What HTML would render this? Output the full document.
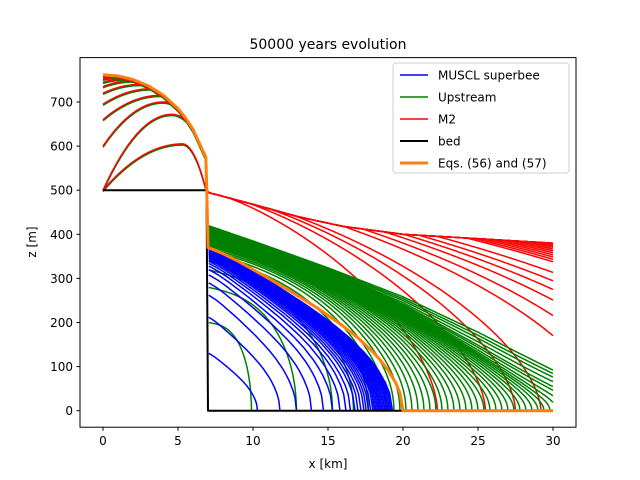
<!DOCTYPE html>
<html><head><meta charset="utf-8"><style>
body{margin:0;background:#fff}
svg{display:block;font-family:"DejaVu Sans","Liberation Sans",sans-serif}
</style></head><body>
<svg id="chart" width="640" height="480" viewBox="0 0 640 480" xmlns="http://www.w3.org/2000/svg">
<rect width="640" height="480" fill="#fff"/>
<text x="328" y="49" font-size="14" text-anchor="middle">50000 years evolution</text>
<g id="plot"></g>
<rect x="80" y="57.6" width="496" height="369.6" fill="none" stroke="#000" stroke-width="1"/>
<g id="axes"></g>
<text x="328" y="468" font-size="12" text-anchor="middle">x [km]</text>
<text x="36" y="242" font-size="12" text-anchor="middle" transform="rotate(-90 36 242)">z [m]</text>
<g>
<rect x="393" y="63" width="176" height="110" rx="3" fill="#fff" fill-opacity="0.85" stroke="#ccc"/>
<g><line x1="400" y1="75" x2="428" y2="75" stroke="#0000ff" stroke-width="1.5"/><text x="438" y="79.5" font-size="12">MUSCL superbee</text></g>
<g><line x1="400" y1="97" x2="428" y2="97" stroke="#008000" stroke-width="1.5"/><text x="438" y="101.5" font-size="12">Upstream</text></g>
<g><line x1="400" y1="119" x2="428" y2="119" stroke="#ff0000" stroke-width="1.5"/><text x="438" y="123.5" font-size="12">M2</text></g>
<g><line x1="400" y1="141" x2="428" y2="141" stroke="#000" stroke-width="2"/><text x="438" y="145.5" font-size="12">bed</text></g>
<g><line x1="400" y1="163" x2="428" y2="163" stroke="#ff7f0e" stroke-width="3"/><text x="438" y="167.5" font-size="12">Eqs. (56) and (57)</text></g>
</g>
</svg>
<script>
const xTicks=[0,5,10,15,20,25,30];
const yTicks=[0,100,200,300,400,500,600,700];
const orangeRightX=[7,8,9,10,11,12,13,14,15,16,17,18,18.5,19,19.5,19.8,20];
const orangeRightZ=[370,356,339,320,301,281,260,239,216,192,165,133,114,92,64,40,0];
const orangeLeftX=[0,1,2,3,4,5,5.5,6,6.5,6.85];
const orangeLeftZ=[762,759,751,737,716,685,664,638,601,575];
const blueL=[10.3,11.8,12.9,13.9,14.7,15.3,15.8,16.2,16.5,16.8,17.0,17.2,17.4,17.55,17.7,17.85,18.0,18.1,18.2,18.3,18.4,18.5,18.6,18.7,18.8,18.9,19.0,19.1,19.2,19.3];
const blueH=[130,212,262,290,308,320,328,334,339,343,346,349,351,353,355,356,357,358,359,360,361,362,363,364,365,366,366,367,367,368];
const greenL=[9.9,12.9,15.3,16.7,17.7,18.4,18.9,19.4,19.8,20.2,20.6,21.0,21.4,21.8,22.2,22.6,23.0,23.4,23.8,24.2,24.6,25.0,25.4,25.8,26.2,26.6,27.0,27.4,27.8,28.2,28.6,29.0,29.4,29.8,30.3,31,32,33,35,38,42,50];
const greenH=[200,280,320,340,352,360,366,370,374,377,380,382,384,386,388,390,392,393,394,395,396,397,398,399,400,401,402,403,404,405,406,407,408,409,410,411,412,413,414,416,418,420];
const greenTopX=[7,10,15,20,25,30];
const greenTopZ=[420,385,325,262,185,100];
const redTopX=[7,10,13,16,20,25,30];
const redTopZ=[495,468,440,418,400,390,380];
const redL=[22.3,25.5,27.5,29.2,33.5,35.7,38,40,42,44.3,48,49,50,51,52,53,54,55,56,57,58,60];
const leftZ0=[500,500,600,660,695,720,735,745,752,758];
const leftXp=[5.3,4.6,4.0,3.8,3.2,2.5,2.0,1.5,1.0,0.5];
const leftZp=[605,672,700,715,730,740,748,752,756,760];
const leftZe=[500,585,588,590,592,594,596,598,600,602];

const X=v=>103+v*15, Y=v=>410.7-v*0.441;
const NS='http://www.w3.org/2000/svg';
const plot=document.getElementById('plot'), axes=document.getElementById('axes');
function interp(xs,zs,x){if(x<=xs[0])return zs[0];for(let i=1;i<xs.length;i++){if(x<=xs[i]){const t=(x-xs[i-1])/(xs[i]-xs[i-1]);return zs[i-1]+t*(zs[i]-zs[i-1]);}}return zs[zs.length-1];}
const shapeU=orangeRightX.map(x=>(x-7)/13), shapeF=orangeRightZ.map(z=>z/370);
const fRed=u=>u>=1?0:Math.pow(1-Math.pow(u,1.3),0.6);
const fBlue=u=>u>=1?0:interp(shapeU,shapeF,u);
const fGreen=u=>u>=1?0:Math.pow(1-Math.pow(u,3),0.5);
function poly(pts,color,w,name,dy){
  const p=document.createElementNS(NS,'polyline');
  p.setAttribute('points',pts.map(q=>X(q[0]).toFixed(1)+','+(Y(q[1])+(dy||0)).toFixed(1)).join(' '));
  p.setAttribute('fill','none');p.setAttribute('stroke',color);p.setAttribute('stroke-width',w);p.setAttribute('stroke-linejoin','round');
  
  
  plot.appendChild(p);
}
function front(zfun,L){const pts=[];const x0=7.05;const end=Math.min(L,30);
  for(let x=x0;x<end;x+=0.04){pts.push([x,zfun(x,(x-x0)/(L-x0))]);}
  pts.push([end,L<=30?0:zfun(end,(end-x0)/(L-x0))]);return pts;}
function leftCurve(i){const pts=[];const xe=6.88;for(let x=0;x<=xe+1e-6;x+=0.05){let z;const xp=leftXp[i];if(x<=xp){const t=x/xp;z=leftZ0[i]+(leftZp[i]-leftZ0[i])*(1-(1-t)*(1-t));}else{const t=(x-xp)/(xe-xp);z=leftZp[i]+(leftZe[i]-leftZp[i])*t*t;}z=Math.min(z,interp(orangeLeftX,orangeLeftZ,x)-3);pts.push([x,z]);}pts.push([6.9,500]);return pts;}
const redTop=x=>interp(redTopX,redTopZ,x);
const greenEnv=x=>interp(greenTopX,greenTopZ,x)/420;
leftZ0.forEach((_,i)=>poly(leftCurve(i),'#008000',1.5,'upstream-left-curve',1.2));
leftZ0.forEach((_,i)=>poly(leftCurve(i),'#ff0000',1.5,'m2-left-curve',0));
redL.forEach(L=>poly([[6.9,500]].concat(front((x,u)=>Math.min(redTop(x),495*fRed(u)),L)),'#ff0000',1.5,'m2-right-curve'));
greenL.forEach((L,i)=>poly(front((x,u)=>greenH[i]*greenEnv(x)*fGreen(u),L),'#008000',1.5,'upstream-curve'));
blueL.forEach((L,i)=>poly(front((x,u)=>blueH[i]*fBlue(u),L),'#0000ff',1.5,'muscl-curve'));
poly([[0,500],[6.9,500],[7,0],[30,0]],'#000',2,'bed-line');
const or=orangeLeftX.map((x,i)=>[x,orangeLeftZ[i]]).concat([[6.92,500]]).concat(orangeRightX.map((x,i)=>[x,orangeRightZ[i]])).concat([[30,0]]);
poly(or,'#ff7f0e',3,'analytic-solution-line');
xTicks.forEach(t=>{const l=document.createElementNS(NS,'line');l.setAttribute('x1',X(t));l.setAttribute('x2',X(t));l.setAttribute('y1',427.2);l.setAttribute('y2',430.7);l.setAttribute('stroke','#000');


axes.appendChild(l);const s=document.createElementNS(NS,'text');s.setAttribute('x',X(t));s.setAttribute('y',445);s.setAttribute('font-size','12');s.setAttribute('text-anchor','middle');s.textContent=t;


axes.appendChild(s);});
yTicks.forEach(t=>{const l=document.createElementNS(NS,'line');l.setAttribute('x1',76.5);l.setAttribute('x2',80);l.setAttribute('y1',Y(t));l.setAttribute('y2',Y(t));l.setAttribute('stroke','#000');


axes.appendChild(l);const s=document.createElementNS(NS,'text');s.setAttribute('x',73);s.setAttribute('y',Y(t)+4.5);s.setAttribute('font-size','12');s.setAttribute('text-anchor','end');s.textContent=t;


axes.appendChild(s);});
</script>
</body></html>
